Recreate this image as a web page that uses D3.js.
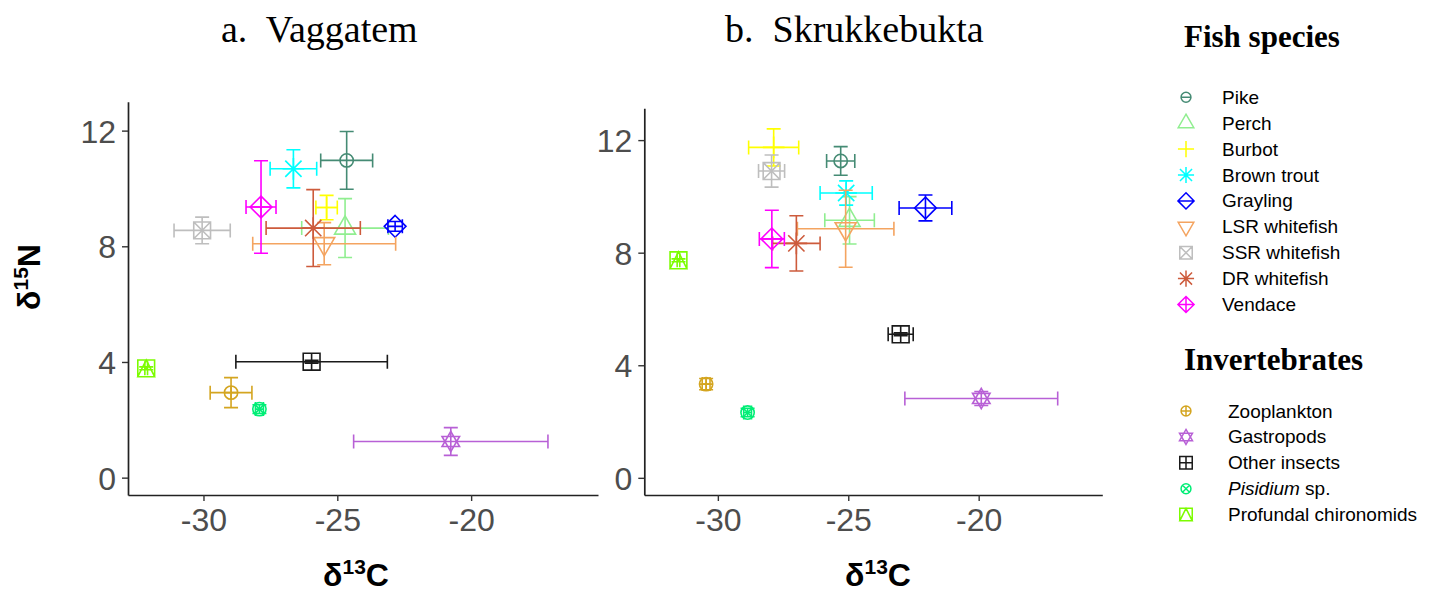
<!DOCTYPE html>
<html>
<head>
<meta charset="utf-8">
<script src="https://cdn.jsdelivr.net/npm/d3@7"></script>
<style>
  body { margin: 0; background: #fff; }
  svg { display: block; }
</style>
</head>
<body>
<script>
// groups, in legend order
const species = ["Pike", "Perch", "Burbot", "Brown trout", "Grayling", "LSR whitefish", "SSR whitefish",
  "DR whitefish", "Vendace", "Zooplankton", "Gastropods", "Other insects", "Pisidium sp.", "Profundal chironomids"];
const colors = ["#458b74", "#90ee90", "#ffff00", "#00ffff", "#0000ff", "#f4a460", "#bebebe",
  "#cd5b3c", "#ff00ff", "#d4a520", "#b860d6", "#1a1a1a", "#00ee76", "#7cfc00"];
const shapes = ["circle", "triangle", "plus", "asterisk", "diamond", "triangleDown", "squareCross",
  "asterisk", "diamondPlus", "circlePlus", "star", "squarePlus", "circleCross", "squareTriangle"];

// a. Vaggatem  (mean +- error)
const vagC = [-24.65, -24.71, -25.4, -26.64, -22.84, -25.49, -30.05, -25.9, -27.85, -28.97, -20.76, -25.96, -27.91, -32.14];
const vagCerr = [0.97, 1.62, 0.4, 0.87, 0.27, 2.67, 1.05, 1.76, 0.56, 0.78, 3.63, 2.83, 0.15, 0.05];
const vagN = [10.97, 8.63, 9.34, 10.68, 8.69, 8.09, 8.55, 8.63, 9.36, 2.94, 1.25, 4.01, 2.37, 3.78];
const vagNerr = [1.0, 1.02, 0.42, 0.66, 0.17, 0.73, 0.46, 1.33, 1.6, 0.52, 0.48, 0.05, 0.15, 0.05];

// b. Skrukkebukta
const skrC = [-25.29, -24.95, -27.86, -25.08, -22.04, -25.1, -27.94, -26.99, -27.93, -30.45, -19.9, -22.99, -28.86, -31.51];
const skrCerr = [0.54, 0.95, 0.96, 1.0, 1.01, 1.85, 0.5, 0.91, 0.48, 0.15, 2.93, 0.48, 0.15, 0.05];
const skrN = [11.26, 9.15, 11.74, 10.12, 9.59, 8.85, 10.9, 8.33, 8.49, 3.33, 2.82, 5.1, 2.32, 7.73];
const skrNerr = [0.51, 0.84, 0.66, 0.43, 0.46, 1.37, 0.57, 0.98, 1.02, 0.2, 0.25, 0.05, 0.15, 0.05];

const xTicks = [-30, -25, -20];
const yTicks = [0, 4, 8, 12];

const width = 1439, height = 592;

const svg = d3.select("body").append("svg")
  .attr("width", width)
  .attr("height", height);

// path for each marker shape, centred on 0,0
function shapePath(shape, s) {
  const p = d3.path();
  const circle = r => { p.moveTo(r, 0); p.arc(0, 0, r, 0, 2 * Math.PI); };
  const line = (x1, y1, x2, y2) => { p.moveTo(x1, y1); p.lineTo(x2, y2); };
  const tri = (a, dir) => {
    const h = a * Math.sqrt(3);
    p.moveTo(0, -dir * h * 2 / 3); p.lineTo(a, dir * h / 3); p.lineTo(-a, dir * h / 3); p.closePath();
  };
  const r = s * 0.95, q = s * 1.2, d = s * 1.55, t = s * 1.5;
  switch (shape) {
    case "circle": circle(r); break;
    case "circleH": circle(r); line(-r, 0, r, 0); break;
    case "circlePlus": circle(r); line(-r, 0, r, 0); line(0, -r, 0, r); break;
    case "circleCross": circle(r); { const k = r * 0.707; line(-k, -k, k, k); line(-k, k, k, -k); } break;
    case "triangle": tri(t, 1); break;
    case "triangleDown": tri(t, -1); break;
    case "plus": line(-d, 0, d, 0); line(0, -d, 0, d); break;
    case "asterisk": { const k = d * 0.75; line(-d, 0, d, 0); line(0, -d, 0, d); line(-k, -k, k, k); line(-k, k, k, -k); } break;
    case "diamond": p.moveTo(0, -d); p.lineTo(d, 0); p.lineTo(0, d); p.lineTo(-d, 0); p.closePath(); break;
    case "diamondH": p.moveTo(0, -d); p.lineTo(d, 0); p.lineTo(0, d); p.lineTo(-d, 0); p.closePath(); line(-d, 0, d, 0); break;
    case "diamondPlus": p.moveTo(0, -d); p.lineTo(d, 0); p.lineTo(0, d); p.lineTo(-d, 0); p.closePath(); line(-d, 0, d, 0); line(0, -d, 0, d); break;
    case "squareCross": p.rect(-q, -q, 2 * q, 2 * q); line(-q, -q, q, q); line(-q, q, q, -q); break;
    case "squarePlus": p.rect(-q, -q, 2 * q, 2 * q); line(-q, 0, q, 0); line(0, -q, 0, q); break;
    case "squareTriangle": p.rect(-q, -q, 2 * q, 2 * q); p.moveTo(0, -q); p.lineTo(q, q); p.lineTo(-q, q); p.closePath(); break;
    case "star": tri(s * 1.25, 1); tri(s * 1.25, -1); break;
  }
  return p.toString();
}

function panel(opts) {
  const x = d3.scaleLinear().domain([-32.82, -15.26]).range([opts.left, opts.right]);
  const y = d3.scaleLinear().domain(opts.yDomain).range([495, opts.top]);
  const g = svg.append("g");

  // axes (plain hyphen for negatives, like the original)
  const xAxis = g.append("g")
    .attr("transform", "translate(0,495)")
    .call(d3.axisBottom(x).tickValues(xTicks).tickFormat(d => String(d))
      .tickSize(6).tickPadding(7).tickSizeOuter(0));
  const yAxis = g.append("g")
    .attr("transform", `translate(${opts.left},0)`)
    .call(d3.axisLeft(y).tickValues(yTicks).tickFormat(d => String(d))
      .tickSize(6).tickPadding(6).tickSizeOuter(0));
  [xAxis, yAxis].forEach(a => {
    a.select(".domain").attr("stroke", "#222").attr("stroke-width", 1.7);
    a.selectAll(".tick line").attr("stroke", "#333").attr("stroke-width", 1.4);
    a.selectAll(".tick text")
      .attr("fill", "#4d4d4d")
      .style("font-family", "'Liberation Sans', Arial, sans-serif")
      .style("font-size", "32px");
  });
  yAxis.selectAll(".tick text").attr("dy", "0.36em");

  const rows = species.map((name, i) => ({
    name, color: colors[i], shape: shapes[i],
    cx: opts.cx[i], cxe: opts.cxe[i], ny: opts.ny[i], nye: opts.nye[i]
  }));

  const cap = 7;
  const item = g.append("g").selectAll("g")
    .data(rows)
    .join("g")
      .attr("fill", "none")
      .attr("stroke", d => d.color)
      .attr("stroke-width", 1.6);

  // horizontal error bars
  item.append("path")
    .attr("d", d => {
      const x1 = x(d.cx - d.cxe), x2 = x(d.cx + d.cxe), yy = y(d.ny);
      return `M${x1},${yy}H${x2}M${x1},${yy - cap}V${yy + cap}M${x2},${yy - cap}V${yy + cap}`;
    });
  // vertical error bars
  item.append("path")
    .attr("d", d => {
      const y1 = y(d.ny - d.nye), y2 = y(d.ny + d.nye), xx = x(d.cx);
      return `M${xx},${y1}V${y2}M${xx - cap},${y1}H${xx + cap}M${xx - cap},${y2}H${xx + cap}`;
    });
  // markers
  item.append("path")
    .attr("transform", d => `translate(${x(d.cx)},${y(d.ny)})`)
    .attr("d", d => shapePath(d.shape, 7));

  // title
  svg.append("text")
    .attr("x", opts.titleX)
    .attr("y", 42)
    .style("font-family", "'Liberation Serif', 'Times New Roman', serif")
    .style("font-size", "38px")
    .attr("xml:space", "preserve")
    .text(opts.title);

  // x label
  const xl = svg.append("text")
    .attr("x", opts.labelX)
    .attr("y", 586)
    .attr("text-anchor", "middle")
    .style("font-family", "'Liberation Sans', Arial, sans-serif")
    .style("font-weight", "bold")
    .style("font-size", "32px");
  xl.append("tspan").text("δ");
  xl.append("tspan").attr("dy", -12).style("font-size", "21px").text("13");
  xl.append("tspan").attr("dy", 12).text("C");
}

panel({
  left: 128, right: 598, top: 101.7, yDomain: [-0.6, 13.0],
  cx: vagC, cxe: vagCerr, ny: vagN, nye: vagNerr,
  title: "a.  Vaggatem", titleX: 221, labelX: 356
});
panel({
  left: 644.3, right: 1102.3, top: 108.3, yDomain: [-0.61, 13.13],
  cx: skrC, cxe: skrCerr, ny: skrN, nye: skrNerr,
  title: "b.  Skrukkebukta", titleX: 725, labelX: 878
});

// y label
const yl = svg.append("text")
  .attr("transform", "translate(40,277) rotate(-90)")
  .attr("text-anchor", "middle")
  .style("font-family", "'Liberation Sans', Arial, sans-serif")
  .style("font-weight", "bold")
  .style("font-size", "32px");
yl.append("tspan").text("δ");
yl.append("tspan").attr("dy", -12).style("font-size", "21px").text("15");
yl.append("tspan").attr("dy", 12).text("N");

// legend
const legendShapes = shapes.slice();
legendShapes[0] = "circleH";
legendShapes[4] = "diamondH";

function legendBlock(title, titleY, idx, y0, textX) {
  svg.append("text")
    .attr("x", 1184)
    .attr("y", titleY)
    .style("font-family", "'Liberation Serif', 'Times New Roman', serif")
    .style("font-weight", "bold")
    .style("font-size", "31px")
    .text(title);
  const rows = svg.append("g").selectAll("g")
    .data(idx)
    .join("g")
      .attr("transform", (d, j) => `translate(0,${y0 + j * 25.9})`);
  rows.append("path")
    .attr("transform", "translate(1186,0)")
    .attr("fill", "none")
    .attr("stroke", i => colors[i])
    .attr("stroke-width", 1.5)
    .attr("d", i => shapePath(legendShapes[i], 5.2));
  const t = rows.append("text")
    .attr("x", textX)
    .attr("y", 6.5)
    .style("font-family", "'Liberation Sans', Arial, sans-serif")
    .style("font-size", "19px");
  t.each(function (i) {
    const el = d3.select(this);
    if (species[i] === "Pisidium sp.") {
      el.append("tspan").style("font-style", "italic").text("Pisidium");
      el.append("tspan").text(" sp.");
    } else {
      el.text(species[i]);
    }
  });
}

legendBlock("Fish species", 47, d3.range(0, 9), 97.3, 1222);
legendBlock("Invertebrates", 370, d3.range(9, 14), 411, 1228);
</script>
</body>
</html>
